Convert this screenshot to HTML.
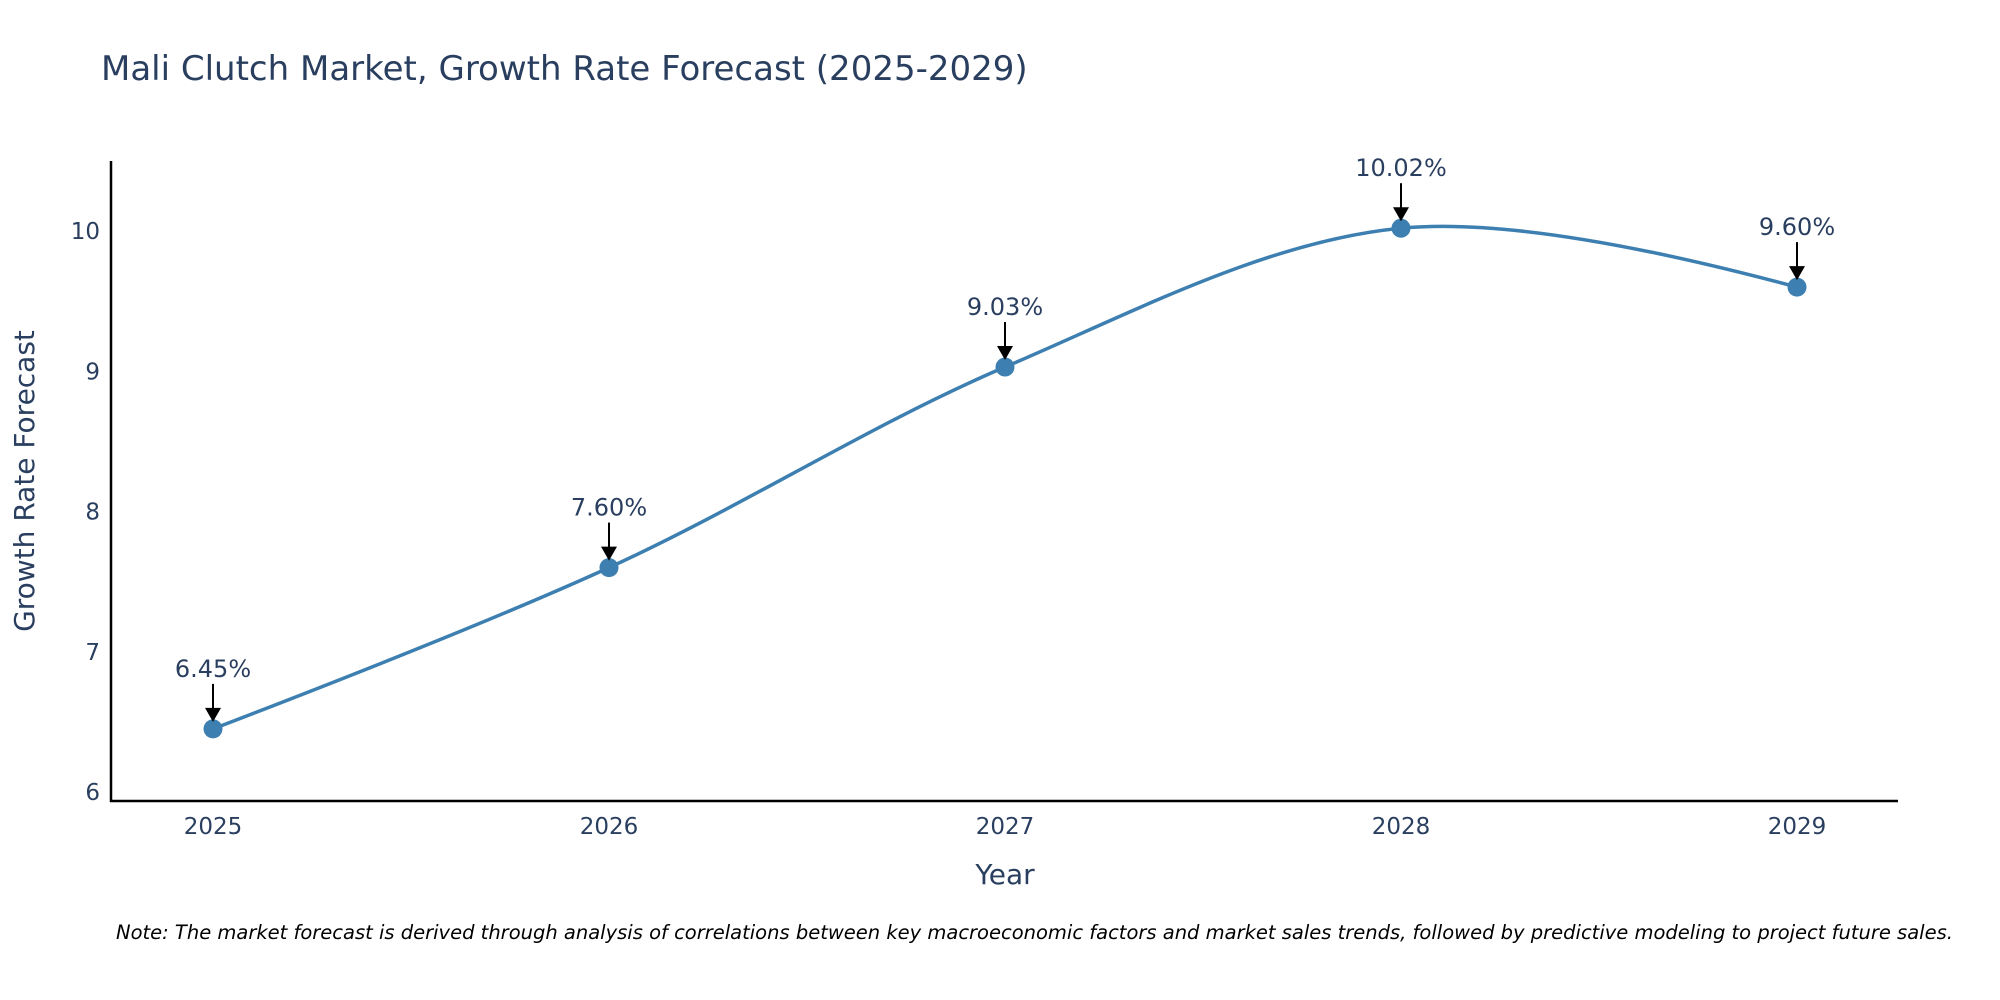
<!DOCTYPE html>
<html><head><meta charset="utf-8"><style>
body{margin:0;background:#fff;}
svg{display:block;font-family:"DejaVu Sans","Liberation Sans",sans-serif;}
</style></head><body>
<svg id="chart" width="2000" height="1000" viewBox="0 0 2000 1000">
<text x="101" y="80" font-size="34" fill="#2a3f5f">Mali Clutch Market, Growth Rate Forecast (2025-2029)</text>
<g id="yticks"></g>
<g id="xticks"></g>
<line x1="111" y1="161" x2="111" y2="802" stroke="#000" stroke-width="2.5"/>
<line x1="110" y1="801" x2="1898" y2="801" stroke="#000" stroke-width="2.5"/>
<path id="line" fill="none" stroke="#3d7fb0" stroke-width="3.5"/>
<g id="marks"></g>
<text x="34" y="481" font-size="28" fill="#2a3f5f" text-anchor="middle" transform="rotate(-90 34 481)">Growth Rate Forecast</text>
<text x="1005" y="884" font-size="28" fill="#2a3f5f" text-anchor="middle">Year</text>
<text x="116" y="939" font-size="19.5" font-style="italic" fill="#000">Note: The market forecast is derived through analysis of correlations between key macroeconomic factors and market sales trends, followed by predictive modeling to project future sales.</text>
</svg>
<script>
const years=["2025","2026","2027","2028","2029"];
const values=[6.45,7.60,9.03,10.02,9.60];
const labels=["6.45%","7.60%","9.03%","10.02%","9.60%"];
const yTicks=[6,7,8,9,10];
const NS="http://www.w3.org/2000/svg";
const X0=213,DX=396;
function xS(i){return X0+i*DX;}
function yS(v){return 792-(v-6)*140.25;}
function mk(tag,attrs,parent){const e=document.createElementNS(NS,tag);for(const k in attrs)e.setAttribute(k,attrs[k]);parent.appendChild(e);return e;}
const yt=document.getElementById('yticks');
yTicks.forEach(t=>{const e=mk('text',{x:100,y:yS(t)+8,'font-size':23,fill:'#2a3f5f','text-anchor':'end'},yt);e.textContent=t;

});
const xt=document.getElementById('xticks');
years.forEach((y,i)=>{const e=mk('text',{x:xS(i),y:834,'font-size':23,fill:'#2a3f5f','text-anchor':'middle'},xt);e.textContent=y;

});
const pts=values.map((v,i)=>[xS(i),yS(v)]);
function tan(a,b,c,s){const d1x=a[0]-b[0],d1y=a[1]-b[1],d2x=c[0]-b[0],d2y=c[1]-b[1];
const d1a=Math.pow(d1x*d1x+d1y*d1y,0.25),d2a=Math.pow(d2x*d2x+d2y*d2y,0.25);
const nx=(d2a*d2a*d1x-d1a*d1a*d2x)*s,ny=(d2a*d2a*d1y-d1a*d1a*d2y)*s;
const de1=3*d2a*(d1a+d2a),de2=3*d1a*(d1a+d2a);
return [[b[0]+nx/de1,b[1]+ny/de1],[b[0]-nx/de2,b[1]-ny/de2]];}
const tg=[];for(let i=1;i<pts.length-1;i++)tg.push(tan(pts[i-1],pts[i],pts[i+1],1));
let d=`M${pts[0]}Q${tg[0][0]} ${pts[1]}`;
for(let i=1;i<pts.length-2;i++)d+=`C${tg[i-1][1]} ${tg[i][0]} ${pts[i+1]}`;
d+=`Q${tg[tg.length-1][1]} ${pts[pts.length-1]}`;
document.getElementById('line').setAttribute('d',d);
const mg=document.getElementById('marks');
pts.forEach((p,i)=>{
const c=mk('circle',{cx:p[0],cy:p[1],r:9.5,fill:'#3d7fb0'},mg);


const l=mk('line',{x1:p[0],y1:p[1]-45,x2:p[0],y2:p[1]-18,stroke:'#000','stroke-width':2},mg);


const h=mk('polygon',{points:`${p[0]-8},${p[1]-21} ${p[0]+8},${p[1]-21} ${p[0]},${p[1]-7}`,fill:'#000'},mg);


const t=mk('text',{x:p[0],y:p[1]-52,'font-size':24,fill:'#2a3f5f','text-anchor':'middle'},mg);t.textContent=labels[i];


});
</script>
</body></html>
